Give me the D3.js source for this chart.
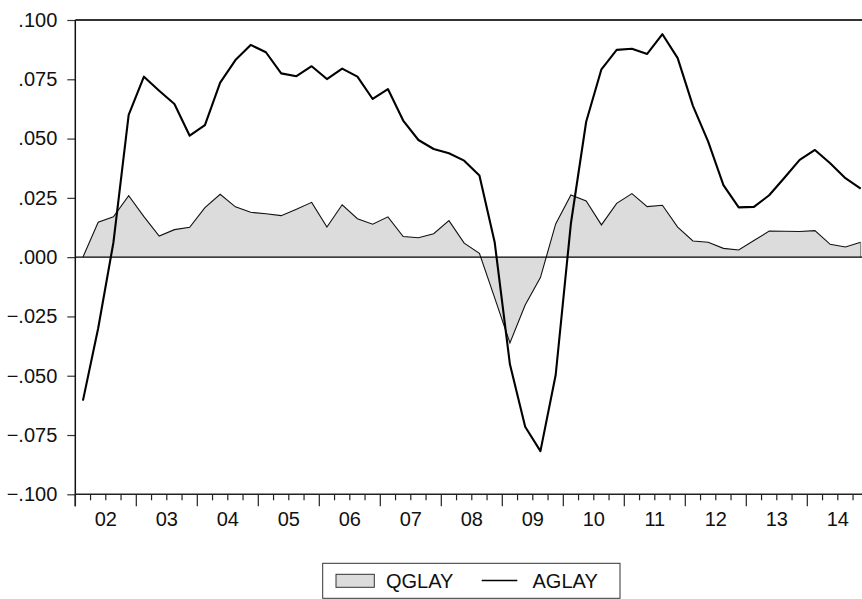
<!DOCTYPE html>
<html>
<head>
<meta charset="utf-8">
<script src="https://cdn.jsdelivr.net/npm/d3@7"></script>
<style>
  body { margin: 0; background: #fff; }
  svg { display: block; font-family: "Liberation Sans", Arial, sans-serif; }
</style>
</head>
<body>
<svg id="chart" width="862" height="599"></svg>
<script>
// Quarterly observations 2002Q1 .. 2014Q4
const years = ["02","03","04","05","06","07","08","09","10","11","12","13","14"];
const qglay = [
  0.0000, 0.0147, 0.0170, 0.0259, 0.0171, 0.0089, 0.0116, 0.0126,
  0.0209, 0.0265, 0.0212, 0.0189, 0.0183, 0.0175, 0.0202, 0.0231,
  0.0127, 0.0221, 0.0162, 0.0139, 0.0170, 0.0087, 0.0082, 0.0099,
  0.0154, 0.0059, 0.0016, -0.0172, -0.0362, -0.0202, -0.0086, 0.0140,
  0.0262, 0.0237, 0.0136, 0.0227, 0.0268, 0.0213, 0.0219, 0.0127,
  0.0068, 0.0063, 0.0037, 0.0030, 0.0070, 0.0110, 0.0109, 0.0108,
  0.0112, 0.0054, 0.0043, 0.0063
];
const aglay = [
  -0.0605, -0.0300, 0.0062, 0.0600, 0.0761, 0.0702, 0.0646, 0.0512,
  0.0557, 0.0736, 0.0831, 0.0895, 0.0864, 0.0775, 0.0763, 0.0805,
  0.0751, 0.0795, 0.0761, 0.0667, 0.0709, 0.0576, 0.0494, 0.0456,
  0.0438, 0.0407, 0.0344, 0.0063, -0.0452, -0.0715, -0.0818, -0.0497,
  0.0143, 0.0571, 0.0792, 0.0874, 0.0879, 0.0857, 0.0940, 0.0839,
  0.0638, 0.0487, 0.0304, 0.0210, 0.0212, 0.0261, 0.0335, 0.0410,
  0.0452, 0.0396, 0.0333, 0.0289
];
const yTicks = [-0.100, -0.075, -0.050, -0.025, 0.000, 0.025, 0.050, 0.075, 0.100];
const legendLabels = ["QGLAY", "AGLAY"];

const svg = d3.select("#chart");
const pLeft = 75.3, pTop = 20, pBottom = 494.3;
const qw = 15.25;
const nQ = qglay.length;

const x = d3.scaleLinear().domain([0, nQ]).range([pLeft, pLeft + nQ * qw]);
const y = d3.scaleLinear().domain([-0.1, 0.1]).range([pBottom, pTop]);
const fmt = v => d3.format(".3f")(v).replace("0.", ".");

// Area (QGLAY)
const area = d3.area()
  .x((d, i) => x(i + 0.5))
  .y0(y(0))
  .y1(d => y(d));
svg.append("path")
  .datum(qglay)
  .attr("d", area)
  .attr("fill", "#dcdcdc")
  .attr("stroke", "none");
svg.append("path")
  .datum(qglay)
  .attr("d", d3.line().x((d, i) => x(i + 0.5)).y(d => y(d)))
  .attr("fill", "none")
  .attr("stroke", "#111")
  .attr("stroke-width", 1.1);
// right edge of area
svg.append("line")
  .attr("x1", x(nQ - 0.5)).attr("x2", x(nQ - 0.5))
  .attr("y1", y(qglay[nQ - 1])).attr("y2", y(0))
  .attr("stroke", "#777").attr("stroke-width", 1);

// Zero line
svg.append("line")
  .attr("x1", pLeft).attr("x2", 862)
  .attr("y1", y(0)).attr("y2", y(0))
  .attr("stroke", "#000").attr("stroke-width", 1.2);

// AGLAY line
svg.append("path")
  .datum(aglay)
  .attr("d", d3.line().x((d, i) => x(i + 0.5)).y(d => y(d)))
  .attr("fill", "none")
  .attr("stroke", "#000")
  .attr("stroke-width", 2.1)
  .attr("stroke-linejoin", "round");

// Top frame
svg.append("line")
  .attr("x1", pLeft).attr("x2", 862)
  .attr("y1", pTop).attr("y2", pTop)
  .attr("stroke", "#333").attr("stroke-width", 2);

// Y axis
const yAxis = d3.axisLeft(y)
  .tickValues(yTicks)
  .tickFormat(fmt)
  .tickSize(8)
  .tickPadding(10);
const gy = svg.append("g").attr("transform", `translate(${pLeft},0)`).call(yAxis);
gy.select(".domain").remove();
gy.selectAll(".tick line").attr("stroke", "#333").attr("stroke-width", 1.2);
gy.selectAll(".tick text").attr("font-size", 20).attr("fill", "#111")
  .attr("font-family", "'Liberation Sans', Arial, sans-serif");
svg.append("line")
  .attr("x1", pLeft).attr("x2", pLeft)
  .attr("y1", pTop).attr("y2", pBottom + 12)
  .attr("stroke", "#111").attr("stroke-width", 1.5);

// X axis
svg.append("line")
  .attr("x1", pLeft).attr("x2", 862)
  .attr("y1", pBottom).attr("y2", pBottom)
  .attr("stroke", "#222").attr("stroke-width", 1.5);
const qTicks = d3.range(0, nQ + 1);
svg.append("g").selectAll("line")
  .data(qTicks)
  .join("line")
  .attr("x1", d => x(d)).attr("x2", d => x(d))
  .attr("y1", pBottom)
  .attr("y2", d => pBottom + (d % 4 === 0 ? 12 : 6))
  .attr("stroke", "#222").attr("stroke-width", 1.2);
svg.append("g").selectAll("text")
  .data(years)
  .join("text")
  .attr("x", (d, i) => x(i * 4 + 2))
  .attr("y", 526)
  .attr("text-anchor", "middle")
  .attr("font-size", 20)
  .attr("fill", "#111")
  .text(d => d);

// Legend
const lg = svg.append("g");
lg.append("rect")
  .attr("x", 322.7).attr("y", 563.3).attr("width", 297.3).attr("height", 35)
  .attr("fill", "#fff").attr("stroke", "#333").attr("stroke-width", 1);
lg.append("rect")
  .attr("x", 336).attr("y", 574.3).attr("width", 38.3).attr("height", 13)
  .attr("fill", "#dcdcdc").attr("stroke", "#333").attr("stroke-width", 1);
lg.append("text")
  .attr("x", 386).attr("y", 587.5)
  .attr("font-size", 20).attr("fill", "#111")
  .text(legendLabels[0]);
lg.append("line")
  .attr("x1", 481.7).attr("x2", 517.3).attr("y1", 580.5).attr("y2", 580.5)
  .attr("stroke", "#000").attr("stroke-width", 1.6);
lg.append("text")
  .attr("x", 532.5).attr("y", 587.5)
  .attr("font-size", 20).attr("fill", "#111")
  .text(legendLabels[1]);
</script>
</body>
</html>
